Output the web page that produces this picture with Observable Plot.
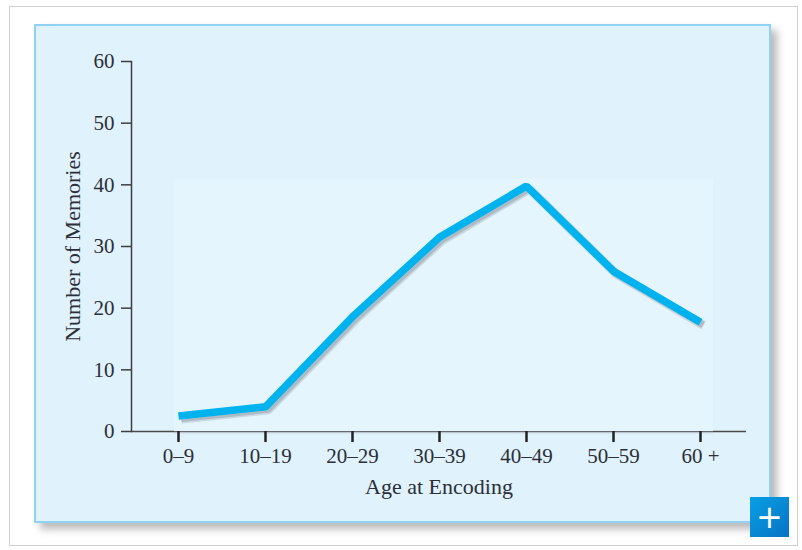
<!DOCTYPE html>
<html>
<head>
<meta charset="utf-8">
<script src="https://cdn.jsdelivr.net/npm/d3@7"></script>
<script src="https://cdn.jsdelivr.net/npm/@observablehq/plot@0.6"></script>
<style>
  html, body { margin: 0; padding: 0; background: #fff; overflow: hidden; }
  #wrap { position: relative; width: 802px; height: 550px; }
  #outer { position: absolute; left: 9px; top: 6px; width: 789px; height: 540px; border: 1px solid #d0d0d0; box-sizing: border-box; background: #fff; }
  #panel { position: absolute; left: 34px; top: 24px; width: 737px; height: 499px; box-sizing: border-box;
           background: #e0f2fc; border: 2px solid #8fd2f4; box-shadow: 6px 6px 8px rgba(0,0,0,0.28); }
  #chart { position: absolute; left: 0; top: 0; }
  #plus { position: absolute; left: 750px; top: 497px; width: 39px; height: 40px;
          background: linear-gradient(135deg, #0aa0e6, #0672c2); color: #fff;
          font: 32px/40px "DejaVu Sans", sans-serif; text-align: center; }
</style>
</head>
<body>
<div id="wrap">
  <div id="outer"></div>
  <div id="panel"></div>
  <div id="chart"></div>
  <div id="plus">+</div>
</div>
<script>
const ages = ["0–9", "10–19", "20–29", "30–39", "40–49", "50–59", "60 +"];
const memories = [2.5, 4, 18.6, 31.5, 39.8, 26, 17.7];
const yTicks = [0, 10, 20, 30, 40, 50, 60];
const xLabel = "Age at Encoding";
const yLabel = "Number of Memories";

const data = ages.map((a, i) => ({age: a, n: memories[i]}));
const span = [{a: ages[0], b: ages[ages.length - 1], y0: 0, y1: 41}];
const serif = "'Liberation Serif', 'DejaVu Serif', serif";

const plot = Plot.plot({
  width: 802,
  height: 550,
  marginLeft: 131,
  marginRight: 56,
  marginTop: 61,
  marginBottom: 119,
  style: {background: "transparent", fontFamily: serif, color: "#2b2f38"},
  x: {type: "point", domain: ages, padding: 0.5},
  y: {domain: [0, 60]},
  marks: [
    Plot.ruleY([0], {stroke: "#4a4a4a", strokeWidth: 1.5}),
    Plot.rect(span, {x1: "a", x2: "b", y1: "y0", y2: "y1",
      insetLeft: -4, insetRight: -13, fill: "#e4f5fe"}),
    Plot.ruleY(span, {x1: "a", x2: "b", y: "y0", insetLeft: -4, insetRight: -13,
      stroke: "#b9c6cd", strokeWidth: 1.5, dy: 1}),
    Plot.frame({anchor: "left", stroke: "#3e3e3e", strokeWidth: 1.5}),
    Plot.axisY({ticks: yTicks, tickSize: 10, tickPadding: 7, fontSize: 21,
      label: null, stroke: "#3e3e3e", strokeWidth: 1.5, fill: "#2b2f38"}),
    Plot.axisX({tickSize: 11, tickPadding: 6, fontSize: 21, label: null,
      stroke: "#222", strokeWidth: 2.5, fill: "#2b2f38"}),
    Plot.line(data, {x: "age", y: "n", stroke: "#6a7780", strokeOpacity: 0.22, strokeWidth: 9,
      dx: 3, dy: 3, strokeLinejoin: "miter", strokeLinecap: "butt"}),
    Plot.line(data, {x: "age", y: "n", stroke: "#6a7780", strokeOpacity: 0.3, strokeWidth: 7,
      dx: 2.5, dy: 2.5, strokeLinejoin: "miter", strokeLinecap: "butt"}),
    Plot.line(data, {x: "age", y: "n", stroke: "#00b3ee", strokeWidth: 7.5,
      strokeLinejoin: "miter", strokeLinecap: "butt"}),
    Plot.text([xLabel], {frameAnchor: "bottom", dy: 62, fontSize: 22, fill: "#2b2f38"}),
    Plot.text([yLabel], {frameAnchor: "left", textAnchor: "middle", dx: -59, rotate: -90, fontSize: 22, fill: "#2b2f38"})
  ]
});
document.getElementById("chart").appendChild(plot);
</script>
</body>
</html>
